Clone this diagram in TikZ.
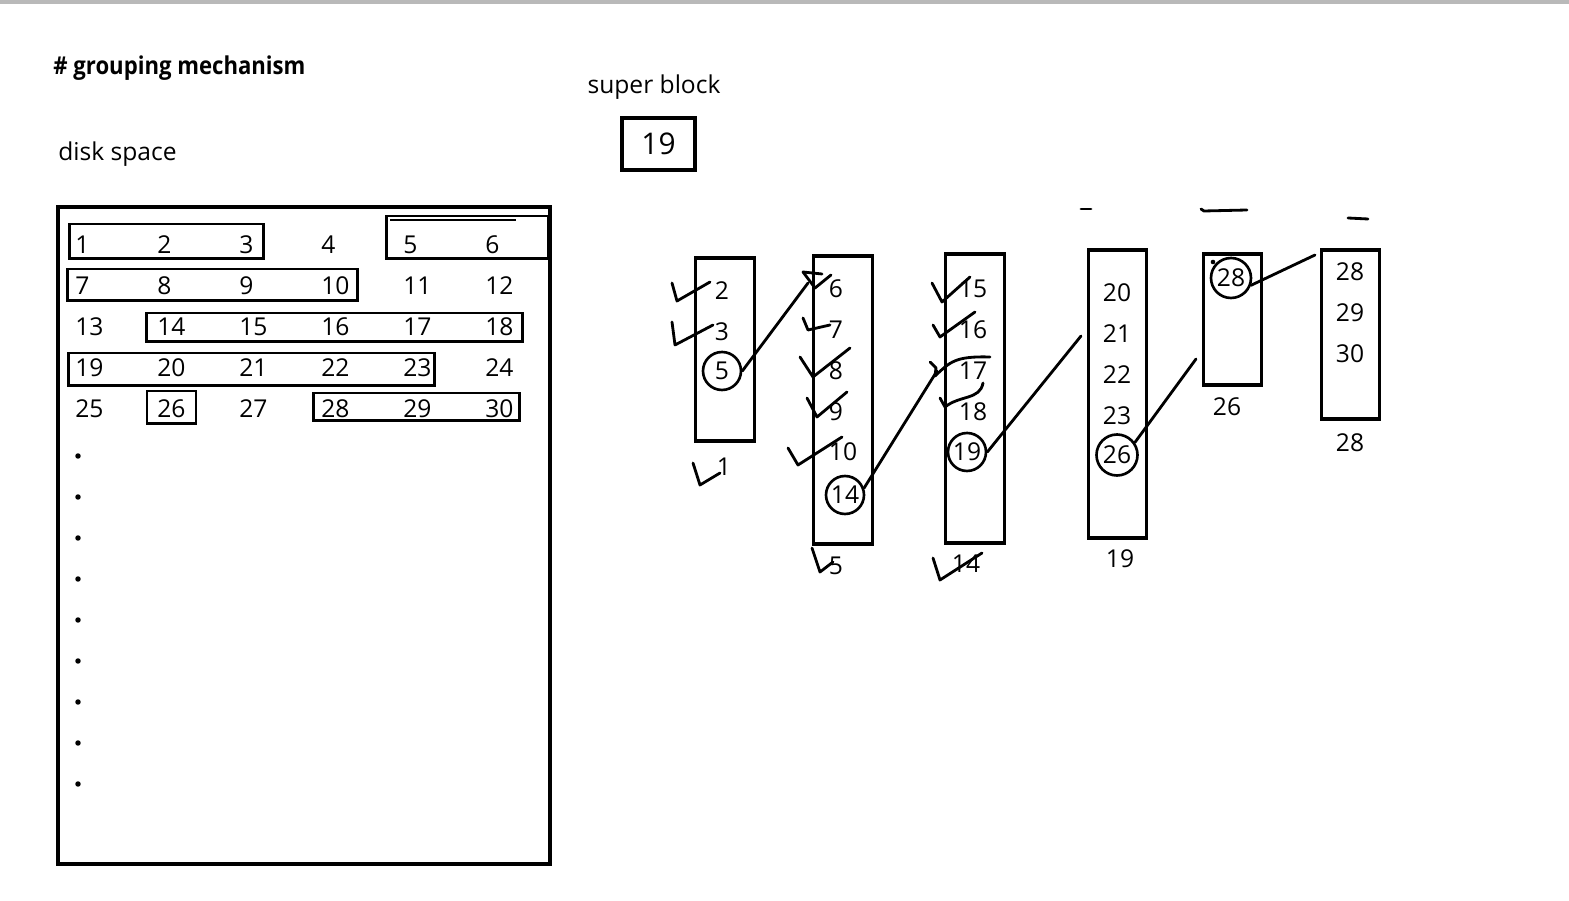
\documentclass[tikz,border=0pt]{standalone}
\usepackage{fontspec}
\usepackage{graphicx}
\setmainfont{Open Sans}
\usetikzlibrary{positioning}
\tikzset{
  txt/.style={inner sep=0pt, font=\fontsize{14}{16}\selectfont},
  cell/.style={txt, anchor=west},
  heavy/.style={draw, line width=1.8pt, inner sep=0pt},
  grpbox/.style={heavy, line width=1.7pt},
  colbox/.style={heavy, minimum width=1.17cm},
  ringnum/.style={txt, circle, draw, line width=1.5pt, minimum size=0.76cm},
  dotmark/.style={circle, fill, inner sep=1.1pt},
  link/.style={line width=1.6pt, line cap=round},
  checkmark/.style={line width=1.6pt, line cap=round, line join=round}
}
\begin{document}
\begin{tikzpicture}[x=0.02cm, y=-0.02cm]
    \useasboundingbox (0,0) rectangle (1569,901);
    \fill[gray!55] (0,0) rectangle (1569,4);
    % headings
    \node[txt, anchor=west, font=\fontsize{14}{16}\selectfont\bfseries] (title) at (53,68) {\scalebox{0.9}[1]{\# grouping mechanism}};
    \node[txt, anchor=west] (disklbl) at (58,154) {disk space};
    \node[txt] (sblbl) at (654,87) {super block};
    \node[heavy, minimum width=1.46cm, minimum height=1.04cm, font=\fontsize{17}{19}\selectfont] (sb) at (658.5,144) {19};
    % disk space
    \node[heavy, minimum width=9.84cm, minimum height=13.14cm] (disk) at (304,535.5) {};
    \foreach \r in {0,...,4}
      \foreach \c in {0,...,5} {
        \pgfmathtruncatemacro\n{6*\r+\c+1}
        \node[cell] (cell\n) at ({75+82*\c},{245+41*\r}) {\n};
      }
    \foreach \i in {0,...,8}
      \node[dotmark] (dot\i) at (78,{456+41*\i}) {};
    % groups in disk space
    \node[grpbox, minimum width=3.9cm, minimum height=0.7cm] (g1) at (166.5,241.5) {};
    \node[grpbox, minimum width=3.26cm, minimum height=0.86cm] (g2) at (467.5,237.5) {};
    \draw[line width=0.6pt] (390,220) -- (516,220);
    \node[grpbox, minimum width=5.82cm, minimum height=0.64cm] (g3) at (212.5,285) {};
    \node[grpbox, minimum width=7.54cm, minimum height=0.58cm] (g4) at (334.5,327.5) {};
    \node[grpbox, minimum width=7.34cm, minimum height=0.66cm] (g5) at (251.5,369.5) {};
    \node[grpbox, minimum width=0.98cm, minimum height=0.66cm] (g6) at (171.5,407.5) {};
    \node[grpbox, minimum width=4.14cm, minimum height=0.56cm] (g7) at (416.5,407) {};
    % free-list blocks
    \node[colbox, minimum height=3.66cm] (colA) at (725,349.5) {};
    \node[colbox, minimum height=5.76cm] (colB) at (843,400) {};
    \node[colbox, minimum height=5.78cm] (colC) at (975,398.5) {};
    \node[colbox, minimum height=5.76cm] (colD) at (1117.5,394) {};
    \node[colbox, minimum height=2.62cm] (colE) at (1232.5,319.5) {};
    \node[colbox, minimum height=3.38cm] (colF) at (1350.5,334.5) {};
    % block A
    \node[txt] (a2) at (722,291) {2};
    \node[txt] (a3) at (722,332) {3};
    \node[ringnum] (a5) at (722,371) {5};
    \node[txt] (tagA) at (724,467) {1};
    % block B
    \foreach \v [count=\k from 0] in {6,7,8,9}
      \node[txt] (b\v) at (836,{289+41*\k}) {\v};
    \node[txt] (b10) at (843,452) {10};
    \node[ringnum] (b14) at (845,495) {14};
    \node[txt] (tagB) at (836,566) {5};
    % block C
    \foreach \v [count=\k from 0] in {15,16,17,18}
      \node[txt] (c\v) at (973,{289+41*\k}) {\v};
    \node[ringnum] (c19) at (967,452) {19};
    \node[txt] (tagC) at (966,564) {14};
    % block D
    \foreach \v [count=\k from 0] in {20,21,22,23}
      \node[txt] (d\v) at (1117,{293+41*\k}) {\v};
    \node[ringnum, minimum size=0.82cm] (d26) at (1117,455) {26};
    \node[txt] (tagD) at (1120,559) {19};
    % block E
    \node[ringnum, minimum size=0.8cm] (e28) at (1231,278) {28};
    \node[txt] (tagE) at (1227,407) {26};
    \fill (1213,262) circle (1.3pt);
    % block F
    \foreach \v [count=\k from 0] in {28,29,30}
      \node[txt] (f\v) at (1350,{272+41*\k}) {\v};
    \node[txt] (tagF) at (1350,443) {28};
    % dashes over the blocks
    \draw[link] (1081,209) -- (1091,209);
    \draw[link] (1201,209) -- (1204,211) -- (1247,210);
    \draw[link] (1348,218) -- (1368,219);
    % links between blocks
    \coordinate (endA) at (808,283);
    \coordinate (endB) at (937,371);
    \coordinate (endC) at (1081,336);
    \coordinate (endD) at (1196,359);
    \coordinate (endE) at (1315,255);
    \draw[link] (a5.east) -- (endA);
    \draw[link] (b14.20) -- (endB);
    \draw[link] (c19.east) -- (endC);
    \draw[link] (d26.35) -- (endD);
    \draw[link] (e28.-20) -- (endE);
    % hand ticks
    \draw[checkmark] (672,283) -- (677,301) -- (710,282);
    \draw[checkmark] (672,322) -- (675,345) -- (713,325);
    \draw[checkmark] (693,463) -- (700,485) -- (720,473);
    \draw[checkmark] (803,272) -- (815,288) -- (831,275);
    \draw[checkmark] (803,272) -- (822,274);
    \draw[checkmark] (803,318) -- (808,330) -- (830,325);
    \draw[checkmark] (800,357) -- (813,377) -- (850,348);
    \draw[checkmark] (807,398) -- (817,417) -- (847,392);
    \draw[checkmark] (788,448) -- (798,465) -- (842,437);
    \draw[checkmark] (812,548) -- (820,572) -- (833,562);
    \draw[checkmark] (932,283) -- (942,302) -- (970,277);
    \draw[checkmark] (933,325) -- (940,337) -- (975,312);
    \draw[checkmark] (930,362) -- (936,368) -- (935,376);
    \draw[checkmark] (935,376) .. controls (950,362) and (955,356) .. (990,357);
    \draw[checkmark] (940,398) -- (945,407) .. controls (960,395) and (980,400) .. (983,383);
    \draw[checkmark] (933,558) -- (940,580) -- (982,553);
  \end{tikzpicture}
\end{document}
